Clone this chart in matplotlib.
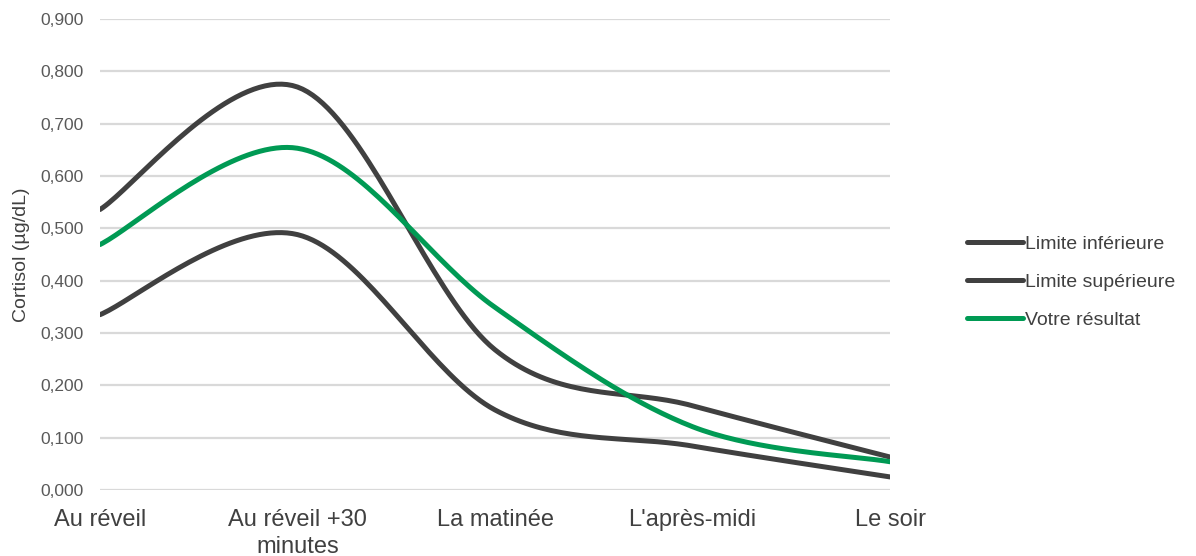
import numpy as np
import matplotlib
matplotlib.use("Agg")
import matplotlib.pyplot as plt

plt.rcParams['font.family'] = ['Liberation Sans', 'DejaVu Sans']

categories = ["Au réveil", "Au réveil +30\nminutes", "La matinée", "L'après-midi", "Le soir"]
limite_inf = [0.335, 0.488, 0.153, 0.084, 0.025]
limite_sup = [0.536, 0.770, 0.268, 0.161, 0.063]
resultat = [0.469, 0.653, 0.349, 0.121, 0.054]


def smooth(xs, ys, n=40):
    # Excel-like smoothed line: Catmull-Rom as cubic Bezier
    xs = np.asarray(xs, float)
    ys = np.asarray(ys, float)
    px = np.concatenate([[xs[0]], xs, [xs[-1]]])
    py = np.concatenate([[ys[0]], ys, [ys[-1]]])
    outx, outy = [], []
    t = np.linspace(0, 1, n)
    for i in range(1, len(px) - 2):
        p0 = np.array([px[i], py[i]])
        p3 = np.array([px[i + 1], py[i + 1]])
        c1 = p0 + (np.array([px[i + 1], py[i + 1]]) - np.array([px[i - 1], py[i - 1]])) / 6
        c2 = p3 - (np.array([px[i + 2], py[i + 2]]) - np.array([px[i], py[i]])) / 6
        b = ((1 - t) ** 3)[:, None] * p0 + (3 * (1 - t) ** 2 * t)[:, None] * c1 \
            + (3 * (1 - t) * t ** 2)[:, None] * c2 + (t ** 3)[:, None] * p3
        outx.extend(b[:, 0])
        outy.extend(b[:, 1])
    return outx, outy


fig = plt.figure(figsize=(11.96, 5.56), dpi=100)
ax = fig.add_axes([100 / 1196, 1 - 490 / 556, 790 / 1196, 471 / 556])

x = np.arange(len(categories))
dark = '#404040'
green = '#009A54'
for vals, col, lab in [(limite_inf, dark, 'Limite inférieure'),
                       (limite_sup, dark, 'Limite supérieure'),
                       (resultat, green, 'Votre résultat')]:
    sx, sy = smooth(x, vals)
    ax.plot(sx, sy, color=col, lw=3.6, solid_capstyle='round', label=lab)

ax.set_xlim(0, 4)
ax.set_ylim(0, 0.9)
ax.set_yticks(np.arange(0, 0.91, 0.1))
ax.set_yticklabels([f"{v:.3f}".replace('.', ',') for v in np.arange(0, 0.91, 0.1)])
ax.set_xticks(x)
ax.set_xticklabels(categories, fontsize=17, color='#404040', linespacing=1.25)
ax.tick_params(axis='y', labelsize=12.5, colors='#595959', length=0, pad=12)
ax.tick_params(axis='x', length=0, pad=14)
ax.grid(axis='y', color='#d9d9d9', lw=1.6)
ax.set_axisbelow(True)
for s in ax.spines.values():
    s.set_visible(False)
ax.set_ylabel('Cortisol (µg/dL)', fontsize=14, color='#404040', labelpad=7)

ax.legend(loc='center left', bbox_to_anchor=(1.075, 0.442), frameon=False,
          fontsize=14, handlelength=2.9, handletextpad=0.1, labelspacing=1.05,
          labelcolor='#404040')

fig.savefig('out.png', dpi=100)
